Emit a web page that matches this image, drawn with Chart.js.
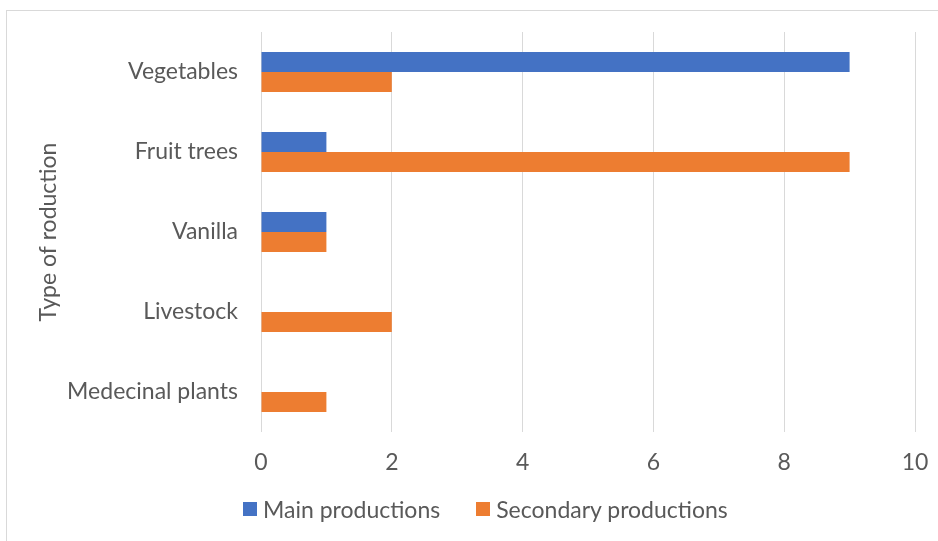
<!DOCTYPE html>
<html>
<head>
<meta charset="utf-8">
<script src="https://cdn.jsdelivr.net/npm/chart.js@4/dist/chart.umd.min.js"></script>
<style>
  html, body { margin: 0; padding: 0; background: #ffffff; }
  #wrap { position: relative; width: 938px; height: 541px; overflow: hidden; }
  #c { position: absolute; left: 0; top: 0; }
  #legend { position: absolute; left: 243px; top: 494px; height: 30px; display: flex; align-items: center;
            font-family: Lato, sans-serif; font-size: 23px; color: #595959; white-space: nowrap; }
  #legend .item { display: flex; align-items: center; margin-right: 36px; }
  #legend .box { width: 14px; height: 14px; margin-right: 6px; flex: none; }
</style>
</head>
<body>
<div id="wrap"><canvas id="c" width="938" height="541"></canvas><div id="legend"></div></div>
<script>
const categories = ["Vegetables", "Fruit trees", "Vanilla", "Livestock", "Medecinal plants"];
const mainProductions = [9, 1, 1, 0, 0];
const secondaryProductions = [2, 9, 1, 2, 1];
const seriesNames = ["Main productions", "Secondary productions"];
const axisTitle = "Type of roduction";
const xMin = 0, xMax = 10, xStep = 2;

const FONT = "Lato";
const TEXT = "#595959";
const GRID = "#d9d9d9";
const CLEAR = "rgba(0,0,0,0)";

const borderPlugin = {
  id: "frame",
  beforeDraw(chart) {
    const ctx = chart.ctx;
    ctx.save();
    ctx.fillStyle = "#ffffff";
    ctx.fillRect(0, 0, chart.width, chart.height);
    ctx.strokeStyle = GRID;
    ctx.lineWidth = 1;
    ctx.strokeRect(6.5, 10.5, 1200, 1200);
    ctx.restore();
  }
};

const htmlLegend = {
  id: "htmlLegend",
  afterUpdate(chart) {
    const el = document.getElementById("legend");
    el.innerHTML = "";
    const items = chart.options.plugins.legend.labels.generateLabels(chart);
    items.forEach(it => {
      const item = document.createElement("div");
      item.className = "item";
      const box = document.createElement("span");
      box.className = "box";
      box.style.background = it.fillStyle;
      const txt = document.createElement("span");
      txt.textContent = it.text;
      item.appendChild(box);
      item.appendChild(txt);
      el.appendChild(item);
    });
  }
};

new Chart(document.getElementById("c"), {
  type: "bar",
  data: {
    labels: categories,
    datasets: [
      { label: seriesNames[0], data: mainProductions, backgroundColor: "#4472C4", borderWidth: 0 },
      { label: seriesNames[1], data: secondaryProductions, backgroundColor: "#ED7D31", borderWidth: 0 }
    ]
  },
  options: {
    indexAxis: "y",
    responsive: false,
    animation: false,
    devicePixelRatio: 1,
    layout: { padding: { left: 0, right: 23, top: 32, bottom: 69 } },
    datasets: { bar: { categoryPercentage: 0.5, barPercentage: 1.0 } },
    plugins: {
      tooltip: { enabled: false },
      legend: { display: false }
    },
    scales: {
      x: {
        min: xMin, max: xMax,
        ticks: { stepSize: xStep, font: { family: FONT, size: 23 }, color: TEXT, padding: 0 },
        grid: { color: GRID, lineWidth: 1, drawTicks: true, tickLength: 17, tickColor: CLEAR },
        border: { display: false },
        afterFit(axis) { axis.height = 40; }
      },
      y: {
        ticks: { font: { family: FONT, size: 23 }, color: TEXT, padding: 0 },
        grid: { display: true, drawOnChartArea: false, drawTicks: true, tickLength: 23, tickColor: CLEAR, color: CLEAR },
        border: { display: false },
        title: {
          display: true, text: axisTitle, color: TEXT,
          font: { family: FONT, size: 23 },
          padding: { top: 35, bottom: 0 }
        },
        afterFit(axis) { axis.width = 261; }
      }
    }
  },
  plugins: [borderPlugin, htmlLegend]
});
</script>
</body>
</html>
